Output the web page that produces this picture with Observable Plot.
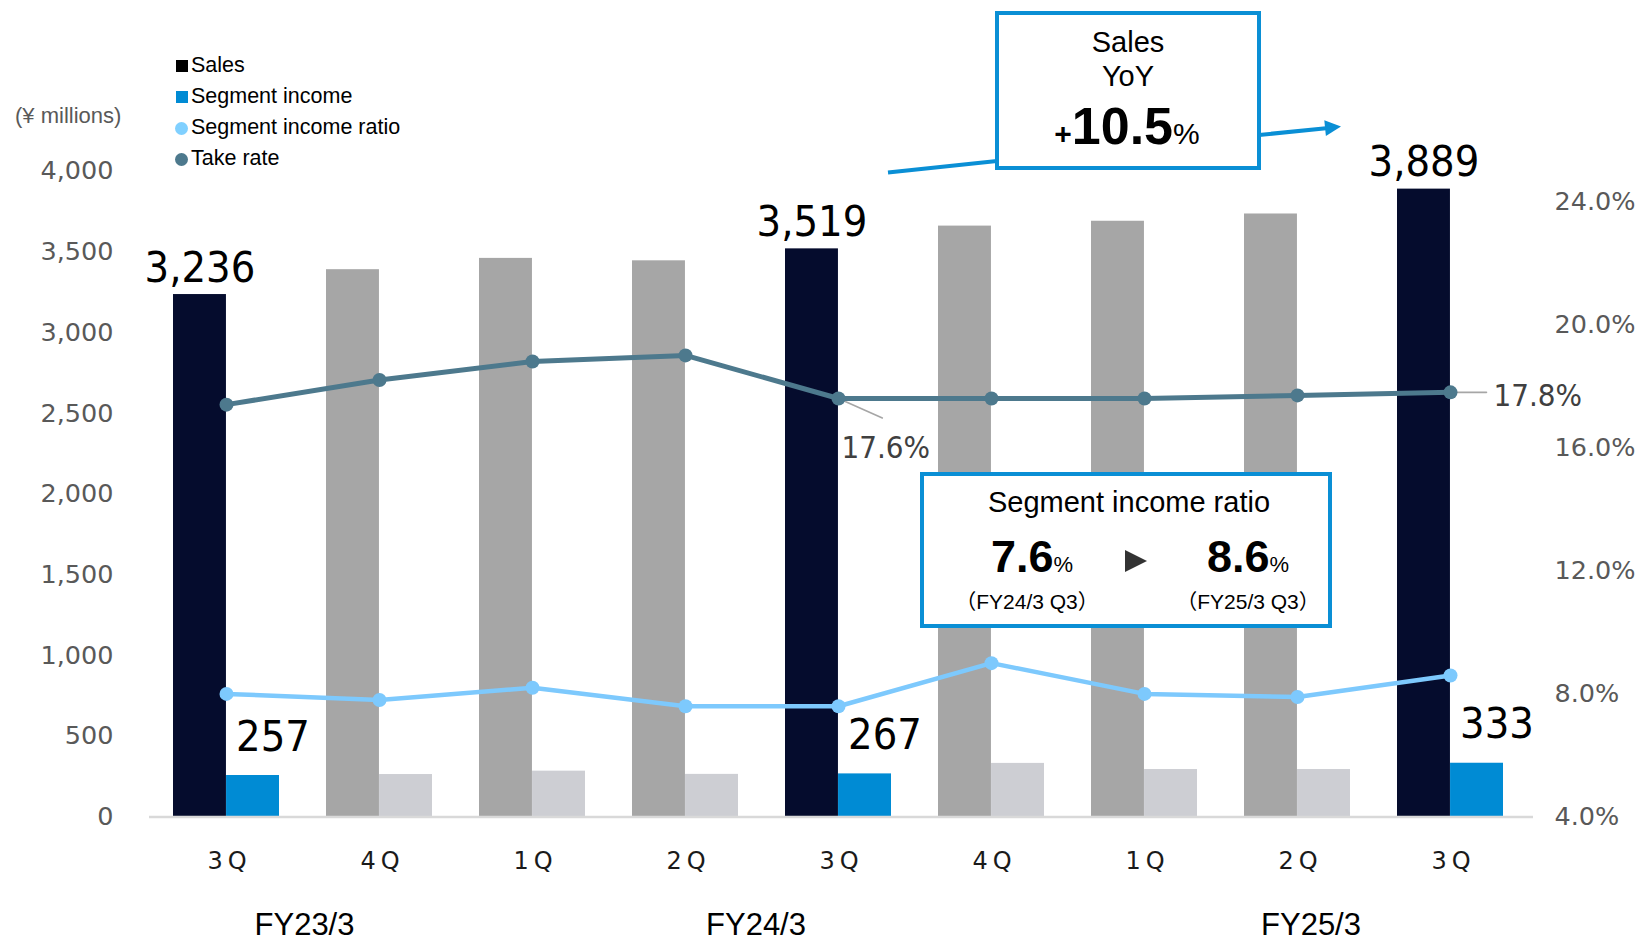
<!DOCTYPE html>
<html>
<head>
<meta charset="utf-8">
<script src="https://cdn.jsdelivr.net/npm/d3@7"></script>
<script src="https://cdn.jsdelivr.net/npm/@observablehq/plot@0.6"></script>
<style>
  html, body { margin:0; padding:0; background:#fff; }
  #wrap { position:relative; width:1652px; height:943px; overflow:hidden; font-family:"Liberation Sans", Arial, sans-serif; }
  #wrap > svg { position:absolute; left:0; top:0; overflow:visible; }
  .ov { position:absolute; white-space:nowrap; line-height:1; }
  [aria-label="y-axis tick label"] text { font-family:"DejaVu Sans", Verdana, sans-serif; font-size:25.5px; fill:#595959; }
  [aria-label="x-axis tick label"] text { font-family:"DejaVu Sans", Verdana, sans-serif; font-size:24px; fill:#1a1a1a; letter-spacing:5px; }
</style>
</head>
<body>
<div id="wrap"></div>
<script>
// ---------------- data ----------------
const quarters = ["3Q","4Q","1Q","2Q","3Q","4Q","1Q","2Q","3Q"];
const fiscalYearOfQuarter = ["FY23/3","FY23/3","FY24/3","FY24/3","FY24/3","FY24/3","FY25/3","FY25/3","FY25/3"];
const fiscalYears = ["FY23/3","FY24/3","FY25/3"];
const sales = [3236, 3390, 3460, 3445, 3519, 3660, 3690, 3735, 3889];
const segmentIncome = [257, 263, 284, 264, 267, 332, 294, 294, 333];
const segmentIncomeRatio = [8.0, 7.8, 8.2, 7.6, 7.6, 9.0, 8.0, 7.9, 8.6];   // %
const takeRate = [17.4, 18.2, 18.8, 19.0, 17.6, 17.6, 17.6, 17.7, 17.8];      // %
const highlighted = [true, false, false, false, true, false, false, false, true];
const leftTicks = [0, 500, 1000, 1500, 2000, 2500, 3000, 3500, 4000];
const rightTicks = [4, 8, 12, 16, 20, 24];
const takeRateLabelIdx = [4, 8];
const legendLabels = ["Sales", "Segment income", "Segment income ratio", "Take rate"];
const salesYoY = "10.5";
const ratioFrom = {value: "7.6", period: "（FY24/3 Q3）"};
const ratioTo = {value: "8.6", period: "（FY25/3 Q3）"};

// ---------------- layout ----------------
const W = 1652, H = 943;
const mL = 149, mR = 125, mT = 170.7, mB = 126.5;
const padIn = 0.307;
const step = (W - mL - mR) / 9;
const bw = step * (1 - padIn);
const half = bw / 2;
// right axis (%) mapped into left-axis units: 4% -> 0, 24% -> 3812
const R0 = 4, RK = 190.6;
const pct = p => (p - R0) * RK;

const C = {
  salesHi: "#050c2d", salesLo: "#a6a6a6",
  incHi: "#008bd4", incLo: "#cdced3",
  ratio: "#7dc9fd", take: "#4d798d",
  box: "#0a8fd5"
};

const periodKeys = quarters.map((q, i) => fiscalYearOfQuarter[i] + " " + q);
const rows = periodKeys.map((k, i) => ({
  key: k, q: quarters[i], sales: sales[i], income: segmentIncome[i],
  ratio: pct(segmentIncomeRatio[i]), take: pct(takeRate[i]),
  takeLabel: takeRate[i].toFixed(1) + "%", hi: highlighted[i]
}));
const hiRows = rows.filter(d => d.hi);
const loRows = rows.filter(d => !d.hi);
const labA = [rows[takeRateLabelIdx[0]]];
const labB = [rows[takeRateLabelIdx[1]]];

const lineShape = { draw(ctx, l) { ctx.moveTo(0, 0); ctx.lineTo(0, -l); } };
const labelFont = {fontSize: 31, fontFamily: "DejaVu Sans Condensed", fill: "#404040", textAnchor: "start", lineAnchor: "middle"};
const bigFont = {fontSize: 43, fontFamily: "DejaVu Sans Condensed", fill: "#000", lineAnchor: "bottom"};

const chart = Plot.plot({
  width: W, height: H,
  marginLeft: mL, marginRight: mR, marginTop: mT, marginBottom: mB,
  style: { background: "transparent", overflow: "visible", fontFamily: "DejaVu Sans" },
  x: { domain: periodKeys, paddingInner: padIn, paddingOuter: padIn / 2, label: null },
  y: { domain: [0, 4000], label: null },
  marks: [
    Plot.barY(hiRows, {x: "key", y: "sales", fill: C.salesHi, insetRight: half}),
    Plot.barY(loRows, {x: "key", y: "sales", fill: C.salesLo, insetRight: half}),
    Plot.barY(hiRows, {x: "key", y: "income", fill: C.incHi, insetLeft: half}),
    Plot.barY(loRows, {x: "key", y: "income", fill: C.incLo, insetLeft: half}),
    Plot.ruleY([0], {stroke: "#d9d9d9", strokeWidth: 2.5, insetRight: -6}),
    Plot.vector(labA, {x: "key", y: "take", length: 48, rotate: 114, anchor: "start",
      shape: lineShape, stroke: "#a6a6a6", strokeWidth: 1.6}),
    Plot.vector(labB, {x: "key", y: "take", length: 36, rotate: 90, anchor: "start",
      shape: lineShape, stroke: "#a6a6a6", strokeWidth: 1.6}),
    Plot.lineY(rows, {x: "key", y: "ratio", stroke: C.ratio, strokeWidth: 4.5}),
    Plot.dot(rows, {x: "key", y: "ratio", r: 7, fill: C.ratio}),
    Plot.lineY(rows, {x: "key", y: "take", stroke: C.take, strokeWidth: 5}),
    Plot.dot(rows, {x: "key", y: "take", r: 7, fill: C.take}),
    Plot.text(labA, {x: "key", y: "take", text: "takeLabel", dx: 3, dy: 50, ...labelFont}),
    Plot.text(labB, {x: "key", y: "take", text: "takeLabel", dx: 43, dy: 4, ...labelFont}),
    Plot.text(hiRows, {x: "key", y: "sales", text: d => d3.format(",")(d.sales), dx: -half / 2, dy: -13, ...bigFont}),
    Plot.text(hiRows, {x: "key", y: "income", text: d => String(d.income), dx: half / 2 + 20, dy: -25, ...bigFont}),
    Plot.axisY(leftTicks, {anchor: "left", tickSize: 0, tickPadding: 36, tickFormat: d3.format(","), color: "#595959"}),
    Plot.axisY(rightTicks.map(pct), {anchor: "right", tickSize: 0, tickPadding: 27,
      tickFormat: v => (v / RK + R0).toFixed(1) + "%", color: "#595959"}),
    Plot.axisX({anchor: "bottom", tickSize: 0, tickPadding: 35, dx: 3, tickFormat: k => quarters[periodKeys.indexOf(k)], color: "#1a1a1a"})
  ]
});

const wrap = document.getElementById("wrap");
wrap.appendChild(chart);

// ---------------- overlays ----------------
function place(html, x, y, css = {}, ax = "-50%") {
  const d = document.createElement("div");
  d.className = "ov";
  d.innerHTML = html;
  Object.assign(d.style, {left: x + "px", top: y + "px", transform: `translate(${ax},-50%)`}, css);
  wrap.appendChild(d);
  return d;
}

// unit label
place("(¥ millions)", 15, 116, {fontSize: "22px", color: "#595959"}, "0");

// legend
const legendMarks = [
  {color: "#000000", round: false}, {color: C.incHi, round: false},
  {color: "#80d0ff", round: true}, {color: C.take, round: true}
];
const legendY = [66, 97, 128, 159];
legendLabels.forEach((lab, i) => {
  const m = legendMarks[i];
  const s = m.round ? 13 : 12;
  const mk = document.createElement("div");
  Object.assign(mk.style, {position: "absolute", left: (m.round ? 175 : 176) + "px", top: (legendY[i] - s / 2) + "px",
    width: s + "px", height: s + "px", background: m.color, borderRadius: m.round ? "50%" : "0"});
  wrap.appendChild(mk);
  place(lab, 191, legendY[i], {fontSize: "21.5px", color: "#000"}, "0");
});

// fiscal year labels
const fyX = [304.5, 756, 1311];
fiscalYears.forEach((fy, i) => place(fy, fyX[i], 924, {fontSize: "31px", color: "#000"}));

// arrow behind the YoY box
const ns = "http://www.w3.org/2000/svg";
const asvg = document.createElementNS(ns, "svg");
asvg.setAttribute("width", W); asvg.setAttribute("height", H);
asvg.style.cssText = "position:absolute;left:0;top:0;pointer-events:none";
asvg.innerHTML = `
  <line x1="888" y1="172.5" x2="997" y2="161" stroke="${C.box}" stroke-width="4"/>
  <line x1="1259" y1="135" x2="1326" y2="128.2" stroke="${C.box}" stroke-width="4"/>
  <polygon points="1341,126.5 1325.9,136.1 1324.3,120.2" fill="${C.box}"/>`;
wrap.appendChild(asvg);

// Sales YoY box
const yoy = document.createElement("div");
Object.assign(yoy.style, {position: "absolute", left: "995px", top: "11px", width: "266px", height: "159px",
  border: `4.5px solid ${C.box}`, boxSizing: "border-box", background: "#fff"});
wrap.appendChild(yoy);
place("Sales", 1128, 42, {fontSize: "29px", color: "#000"});
place("YoY", 1128, 76, {fontSize: "29px", color: "#000"});
place(`<span style="font-size:30px;font-weight:bold">+</span><span style="font-size:52px;font-weight:bold">${salesYoY}</span><span style="font-size:30px">%</span>`,
  1127, 126, {color: "#000"});

// Segment income ratio box
const rb = document.createElement("div");
Object.assign(rb.style, {position: "absolute", left: "920px", top: "472px", width: "412px", height: "156px",
  border: `4.5px solid ${C.box}`, boxSizing: "border-box", background: "#fff"});
wrap.appendChild(rb);
place("Segment income ratio", 1129, 502, {fontSize: "29px", color: "#000"});
place(`<span style="font-size:45px;font-weight:bold">${ratioFrom.value}</span><span style="font-size:22px">%</span>`, 1032, 556, {color: "#000"});
place(`<span style="font-size:45px;font-weight:bold">${ratioTo.value}</span><span style="font-size:22px">%</span>`, 1248, 556, {color: "#000"});
place(ratioFrom.period, 1027, 601, {fontSize: "21px", color: "#000", fontFamily: "'Liberation Sans','Noto Sans CJK JP',sans-serif"});
place(ratioTo.period, 1248, 601, {fontSize: "21px", color: "#000", fontFamily: "'Liberation Sans','Noto Sans CJK JP',sans-serif"});
const tri = document.createElement("div");
Object.assign(tri.style, {position: "absolute", left: "1125px", top: "550px", width: "0", height: "0",
  borderLeft: "22px solid #333", borderTop: "11px solid transparent", borderBottom: "11px solid transparent"});
wrap.appendChild(tri);
</script>
</body>
</html>
